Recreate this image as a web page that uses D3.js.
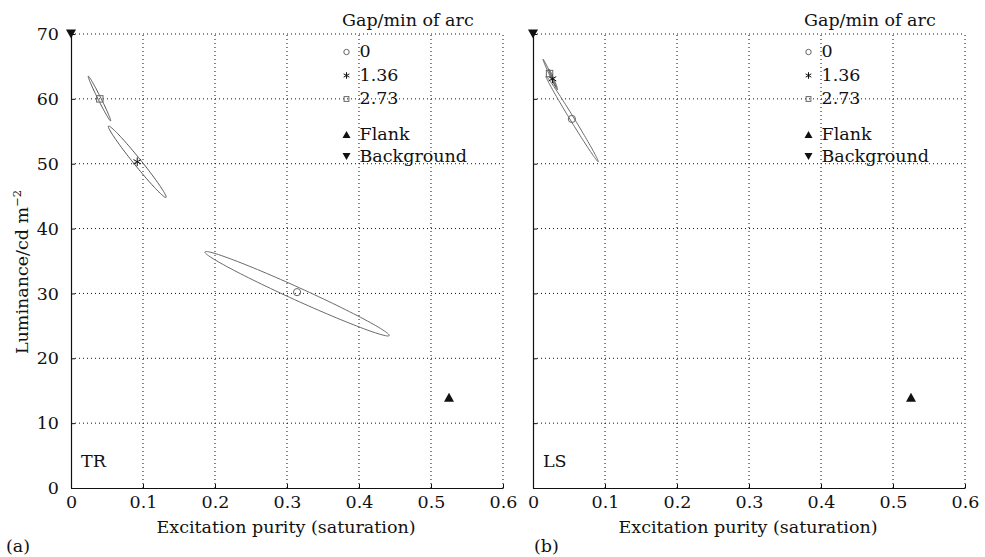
<!DOCTYPE html>
<html>
<head>
<meta charset="utf-8">
<script src="https://cdn.jsdelivr.net/npm/d3@7"></script>
<style>
  html, body { margin: 0; padding: 0; background: #fff; }
  svg { display: block; }
  text { font-family: "DejaVu Serif", "Liberation Serif", serif; fill: #111; }
</style>
</head>
<body>
<svg id="chart" width="985" height="557"></svg>
<script>
// ---------------- DATA ----------------
const xTicks = [0, 0.1, 0.2, 0.3, 0.4, 0.5, 0.6];
const yTicks = [0, 10, 20, 30, 40, 50, 60, 70];
const gapLevels = ["0", "1.36", "2.73"];          // gap / min of arc
const gapSymbols = ["circle", "star", "square"];

// TR observer: mean settings per gap
const trPurity    = [0.314, 0.092, 0.040];
const trLuminance = [30.2, 50.3, 60.0];
// TR ellipse major-axis end points (purity, luminance) and minor/major ratio
const trEllipseA  = [[0.186, 36.4], [0.052, 55.8], [0.024, 63.5]];
const trEllipseB  = [[0.442, 23.5], [0.132, 44.8], [0.055, 56.6]];
const trEllipseRatio = [0.063, 0.08, 0.06];

// LS observer
const lsPurity    = [0.054, 0.027, 0.023];
const lsLuminance = [56.9, 63.1, 63.9];
const lsEllipseA  = [[0.018, 63.5], [0.022, 64.6], [0.014, 66.1]];
const lsEllipseB  = [[0.0907, 50.3], [0.034, 61.4], [0.032, 61.8]];
const lsEllipseRatio = [0.04, 0.08, 0.05];

// Reference stimuli
const flankPoint = [0.525, 14.0];
const backgroundPoint = [0.0, 70.0];

const legendTitle = "Gap/min of arc";
const legendRefLabels = ["Flank", "Background"];
const xTitle = "Excitation purity (saturation)";

// ---------------- DRAW ----------------
const svg = d3.select("#chart");
const FS = 17.5;

const panels = [
  { left: 71,  label: "TR", tag: "(a)", tagX: 6, yLabels: true,
    purity: trPurity, lum: trLuminance, eA: trEllipseA, eB: trEllipseB, eR: trEllipseRatio },
  { left: 533, label: "LS", tag: "(b)", tagX: 534, yLabels: false,
    purity: lsPurity, lum: lsLuminance, eA: lsEllipseA, eB: lsEllipseB, eR: lsEllipseRatio }
];

const plotTop = 34, plotBottom = 488, pw = 432;

function starPath(s) {
  let d = "";
  for (let k = 0; k < 3; k++) {
    const a = Math.PI / 2 + k * Math.PI / 3;
    const dx = Math.cos(a) * s, dy = Math.sin(a) * s;
    d += `M${-dx},${-dy}L${dx},${dy}`;
  }
  return d;
}
function drawMarker(g, type, x, y, size) {
  if (type === "circle") {
    g.append("circle").attr("cx", x).attr("cy", y).attr("r", size * 0.45)
      .attr("fill", "none").attr("stroke", "#666").attr("stroke-width", 1);
  } else if (type === "square") {
    g.append("rect").attr("x", x - size * 0.4).attr("y", y - size * 0.4)
      .attr("width", size * 0.8).attr("height", size * 0.8)
      .attr("fill", "none").attr("stroke", "#666").attr("stroke-width", 1);
  } else if (type === "star") {
    g.append("path").attr("transform", `translate(${x},${y})`).attr("d", starPath(size * 0.55))
      .attr("fill", "none").attr("stroke", "#111").attr("stroke-width", 1);
  } else if (type === "up" || type === "down") {
    const w = size, h = size * 0.9;
    const pts = type === "up"
      ? [[x - w / 2, y + h / 2], [x + w / 2, y + h / 2], [x, y - h / 2]]
      : [[x - w / 2, y - h / 2], [x + w / 2, y - h / 2], [x, y + h / 2]];
    g.append("path").attr("d", "M" + pts.map(p => p.join(",")).join("L") + "Z")
      .attr("fill", "#111").attr("stroke", "none");
  }
}

panels.forEach(p => {
  const x = d3.scaleLinear().domain([0, 0.6]).range([p.left, p.left + pw]);
  const y = d3.scaleLinear().domain([0, 70]).range([plotBottom, plotTop]);
  const g = svg.append("g");

  // grid (dotted)
  g.selectAll(".vg").data(xTicks.filter(t => t > 0)).join("line")
    .attr("x1", d => x(d)).attr("x2", d => x(d)).attr("y1", plotBottom).attr("y2", plotTop)
    .attr("stroke", "#111").attr("stroke-width", 1).attr("stroke-dasharray", "1,3");
  g.selectAll(".hg").data(yTicks.filter(t => t > 0)).join("line")
    .attr("y1", d => y(d)).attr("y2", d => y(d)).attr("x1", p.left).attr("x2", p.left + pw)
    .attr("stroke", "#111").attr("stroke-width", 1).attr("stroke-dasharray", "1,3");

  // axes
  const xAxis = d3.axisBottom(x).tickValues(xTicks).tickSizeInner(-4).tickSizeOuter(0)
    .tickPadding(8).tickFormat(d => d === 0 ? "0" : d3.format(".1f")(d));
  const gx = g.append("g").attr("transform", `translate(0,${plotBottom})`).call(xAxis);
  gx.select(".domain").attr("stroke", "#111").attr("stroke-width", 1.2);
  gx.selectAll(".tick line").attr("stroke", "#111");
  gx.selectAll(".tick text").attr("font-size", FS).attr("font-family", "DejaVu Serif").attr("fill", "#111");

  const yAxis = d3.axisLeft(y).tickValues(yTicks).tickSizeInner(-4).tickSizeOuter(0)
    .tickPadding(12);
  const gy = g.append("g").attr("transform", `translate(${p.left},0)`).call(yAxis);
  gy.select(".domain").attr("stroke", "#111").attr("stroke-width", 1.2);
  gy.selectAll(".tick line").attr("stroke", "#111");
  gy.selectAll(".tick text").attr("font-size", FS).attr("font-family", "DejaVu Serif").attr("fill", "#111");
  if (!p.yLabels) gy.selectAll(".tick text").remove();

  // ellipses
  p.eA.forEach((a, i) => {
    const b = p.eB[i];
    const Ax = x(a[0]), Ay = y(a[1]), Bx = x(b[0]), By = y(b[1]);
    const Cx = (Ax + Bx) / 2, Cy = (Ay + By) / 2;
    const ux = (Bx - Ax) / 2, uy = (By - Ay) / 2;
    const vx = -uy * p.eR[i], vy = ux * p.eR[i];
    const pts = d3.range(0, 121).map(k => {
      const t = k / 120 * 2 * Math.PI;
      return [Cx + ux * Math.cos(t) + vx * Math.sin(t), Cy + uy * Math.cos(t) + vy * Math.sin(t)];
    });
    g.append("path").attr("d", d3.line()(pts)).attr("fill", "none")
      .attr("stroke", i === 0 ? "#6a6a6a" : "#555").attr("stroke-width", 1);
  });

  // mean markers
  p.purity.forEach((v, i) => drawMarker(g, gapSymbols[i], x(v), y(p.lum[i]), 8));
  drawMarker(g, "up", x(flankPoint[0]), y(flankPoint[1]), 10);
  drawMarker(g, "down", x(backgroundPoint[0]), y(backgroundPoint[1]), 10);

  // legend
  const lx = p.left + 271;
  g.append("text").attr("x", lx).attr("y", 26).attr("font-size", FS).text(legendTitle);
  const itemY = [57, 80.5, 104];
  gapLevels.forEach((lab, i) => {
    drawMarker(g, gapSymbols[i], lx + 4.5, itemY[i] - 5, 6);
    g.append("text").attr("x", lx + 17.5).attr("y", itemY[i]).attr("font-size", FS).text(lab);
  });
  const refY = [139.5, 161.5];
  drawMarker(g, "up", lx + 4.5, refY[0] - 5, 8);
  g.append("text").attr("x", lx + 17.5).attr("y", refY[0]).attr("font-size", FS).text(legendRefLabels[0]);
  drawMarker(g, "down", lx + 4.5, refY[1] - 5, 8);
  g.append("text").attr("x", lx + 17.5).attr("y", refY[1]).attr("font-size", FS).text(legendRefLabels[1]);

  // panel label, x title, tag
  g.append("text").attr("x", p.left + 10).attr("y", 467).attr("font-size", FS).text(p.label);
  g.append("text").attr("x", p.left + 215).attr("y", 533).attr("text-anchor", "middle")
    .attr("font-size", FS).text(xTitle);
  g.append("text").attr("x", p.tagX).attr("y", 552).attr("font-size", FS).text(p.tag);
});

// y-axis title (left panel only)
const yt = svg.append("text").attr("transform", "translate(28,272) rotate(-90)")
  .attr("text-anchor", "middle").attr("font-size", FS);
yt.append("tspan").text("Luminance/cd m");
yt.append("tspan").attr("dy", -7).attr("font-size", 11.5).text("\u22122");
</script>
</body>
</html>
